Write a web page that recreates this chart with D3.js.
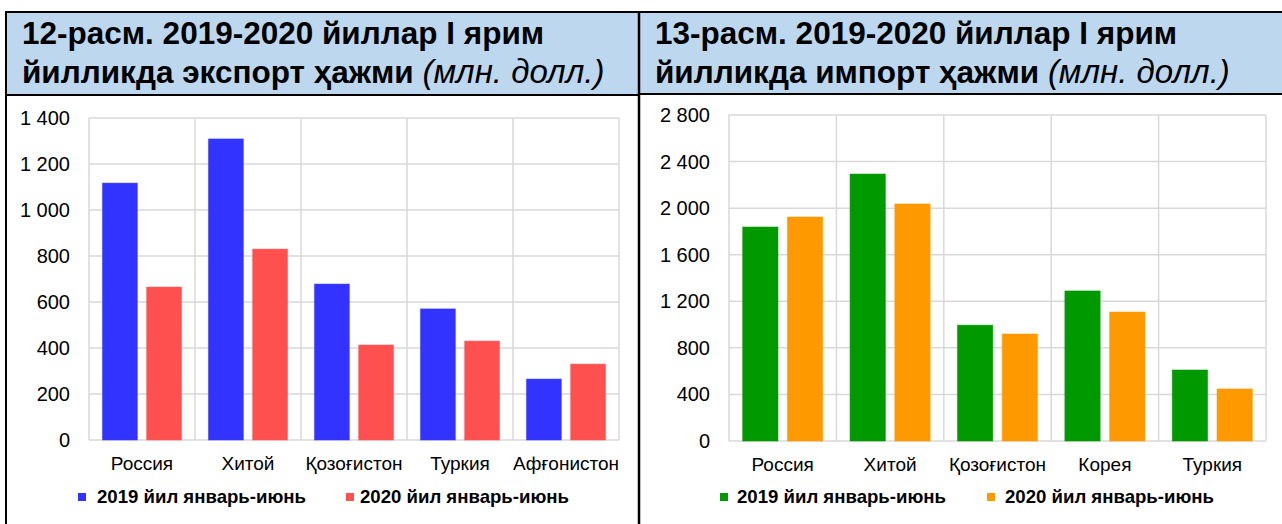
<!DOCTYPE html>
<html>
<head>
<meta charset="utf-8">
<script src="https://cdn.jsdelivr.net/npm/d3@7"></script>
<style>
  html, body { margin: 0; padding: 0; background: #fff; }
  svg { display: block; }
  text { font-family: "Liberation Sans", Arial, sans-serif; fill: #000; }
</style>
</head>
<body>
<svg id="c" width="1282" height="524"></svg>
<script>
// ---- Data ----
const exportTitle1 = "12-расм. 2019-2020 йиллар I ярим";
const exportTitle2 = "йилликда экспорт ҳажми";
const importTitle1 = "13-расм. 2019-2020 йиллар I ярим";
const importTitle2 = "йилликда импорт ҳажми";
const unitLabel = "(млн. долл.)";
const seriesNames = ["2019 йил январь-июнь", "2020 йил январь-июнь"];

const exportCategories = ["Россия", "Хитой", "Қозоғистон", "Туркия", "Афғонистон"];
const export2019 = [1117, 1309, 678, 570, 265];
const export2020 = [665, 830, 413, 430, 330];
const exportTicks = [0, 200, 400, 600, 800, 1000, 1200, 1400];
const exportTickLabels = ["0", "200", "400", "600", "800", "1 000", "1 200", "1 400"];

const importCategories = ["Россия", "Хитой", "Қозоғистон", "Корея", "Туркия"];
const import2019 = [1838, 2293, 995, 1289, 610];
const import2020 = [1924, 2036, 919, 1108, 447];
const importTicks = [0, 400, 800, 1200, 1600, 2000, 2400, 2800];
const importTickLabels = ["0", "400", "800", "1 200", "1 600", "2 000", "2 400", "2 800"];

// ---- Drawing ----
const svg = d3.select("#c");

// Title boxes
svg.append("rect").attr("x", 6).attr("y", 12).attr("width", 633).attr("height", 83)
  .attr("fill", "#BDD7EE").attr("stroke", "#000").attr("stroke-width", 2);
svg.append("rect").attr("x", 639).attr("y", 12).attr("width", 660).attr("height", 82)
  .attr("fill", "#BDD7EE").attr("stroke", "#000").attr("stroke-width", 2);
// panel borders
svg.append("line").attr("x1", 6).attr("x2", 6).attr("y1", 12).attr("y2", 530)
  .attr("stroke", "#000").attr("stroke-width", 2);
svg.append("line").attr("x1", 639).attr("x2", 639).attr("y1", 12).attr("y2", 530)
  .attr("stroke", "#000").attr("stroke-width", 2.5);

function title(x, l1, l2) {
  svg.append("text").attr("x", x).attr("y", 44)
    .attr("font-size", 31.5).attr("font-weight", "bold").text(l1);
  const t = svg.append("text").attr("x", x).attr("y", 83).attr("font-size", 31.5);
  t.append("tspan").attr("font-weight", "bold").text(l2 + " ");
  t.append("tspan").attr("font-style", "italic").attr("font-size", 33).text(unitLabel);
}
title(22, exportTitle1, exportTitle2);
title(655, importTitle1, importTitle2);

function chart(opts) {
  const { left, right, top, bottom, cats, s1, s2, ticks, tickLabels, max, c1, c2, labelX, legend } = opts;
  const g = svg.append("g");
  const y = d3.scaleLinear().domain([0, max]).range([bottom, top]);
  const x0 = d3.scaleBand().domain(cats).range([left, right]).paddingInner(0).paddingOuter(0);
  const x1 = d3.scaleBand().domain([0, 1]).range([0, x0.bandwidth()]).paddingInner(0.21).paddingOuter(0.305);

  // horizontal grid
  g.selectAll("line.h").data(ticks).enter().append("line")
    .attr("x1", left).attr("x2", right)
    .attr("y1", d => y(d)).attr("y2", d => y(d))
    .attr("stroke", "#D9D9D9").attr("stroke-width", 1.5);
  // vertical grid (band boundaries)
  const bounds = cats.map(c => x0(c)).concat([right]);
  g.selectAll("line.v").data(bounds).enter().append("line")
    .attr("x1", d => d).attr("x2", d => d)
    .attr("y1", top).attr("y2", bottom)
    .attr("stroke", "#D9D9D9").attr("stroke-width", 1.5);

  // tick labels
  g.selectAll("text.t").data(ticks).enter().append("text")
    .attr("x", labelX).attr("y", d => y(d) + 7)
    .attr("text-anchor", "end").attr("font-size", 20)
    .text((d, i) => tickLabels[i]);

  // bars
  const rows = cats.map((c, i) => ({ c, v: [s1[i], s2[i]] }));
  const grp = g.selectAll("g.cat").data(rows).enter().append("g")
    .attr("transform", d => `translate(${x0(d.c)},0)`);
  grp.selectAll("rect").data(d => d.v.map((v, k) => ({ v, k }))).enter().append("rect")
    .attr("x", d => x1(d.k)).attr("width", x1.bandwidth())
    .attr("y", d => y(d.v)).attr("height", d => y(0) - y(d.v))
    .attr("fill", d => d.k === 0 ? c1 : c2)
    .attr("stroke", d => d.k === 0 ? c1 : c2).attr("stroke-opacity", 0.5).attr("stroke-width", 1);

  // category labels
  g.selectAll("text.c").data(cats).enter().append("text")
    .attr("x", d => x0(d) + x0.bandwidth() / 2).attr("y", bottom + 30)
    .attr("text-anchor", "middle").attr("font-size", 19)
    .text(d => d);

  // legend
  legend.forEach((L, i) => {
    g.append("rect").attr("x", L.sx).attr("y", 493).attr("width", 8).attr("height", 8)
      .attr("fill", i === 0 ? c1 : c2);
    g.append("text").attr("x", L.tx).attr("y", 503).attr("font-size", 18.6)
      .attr("font-weight", "bold").text(seriesNames[i]);
  });
}

chart({ left: 89, right: 619, top: 118, bottom: 440, cats: exportCategories,
  s1: export2019, s2: export2020, ticks: exportTicks, tickLabels: exportTickLabels, max: 1400,
  c1: "#3333FF", c2: "#FF5050", labelX: 70,
  legend: [{ sx: 78, tx: 97 }, { sx: 346, tx: 360 }] });

chart({ left: 729, right: 1266, top: 115, bottom: 441, cats: importCategories,
  s1: import2019, s2: import2020, ticks: importTicks, tickLabels: importTickLabels, max: 2800,
  c1: "#009900", c2: "#FF9900", labelX: 710,
  legend: [{ sx: 720, tx: 737 }, { sx: 987, tx: 1005 }] });
</script>
</body>
</html>
